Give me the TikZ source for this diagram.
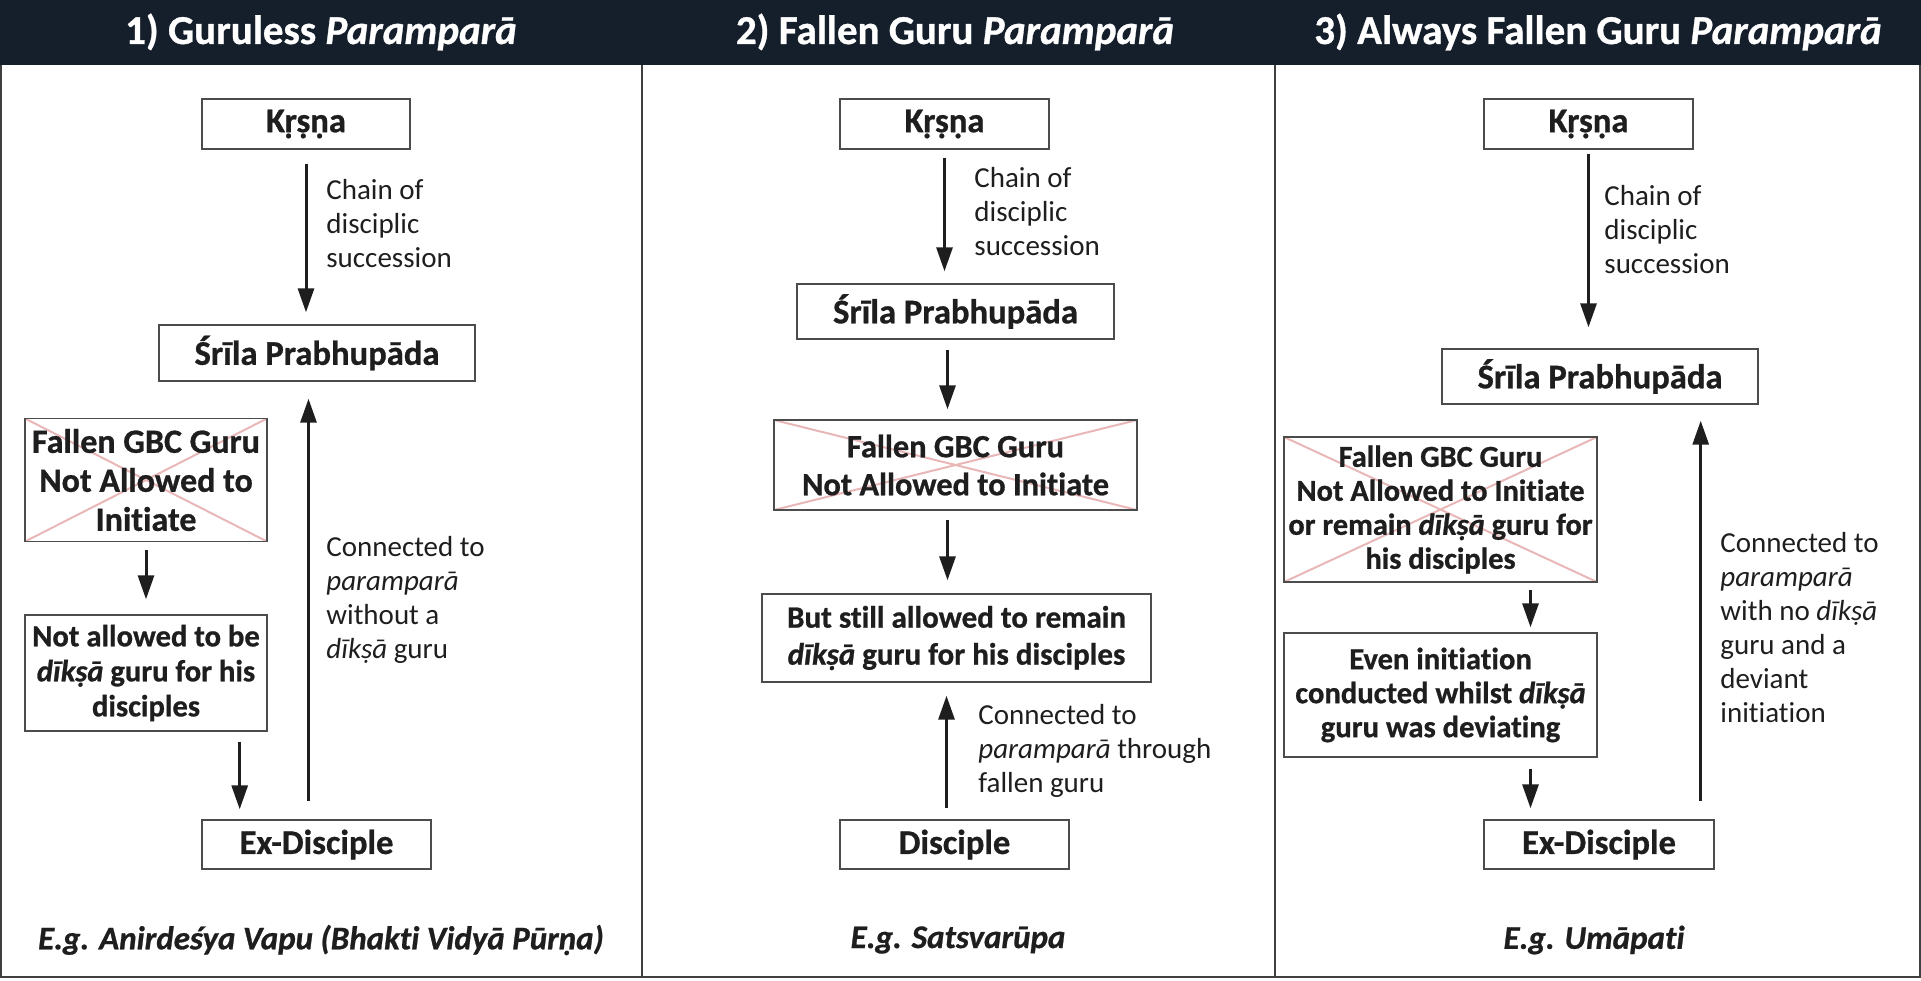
\documentclass[tikz,border=0pt]{standalone}
\usepackage{fontspec}
\setmainfont{Carlito}[Ligatures={NoCommon}, BoldFeatures={FakeBold=0.8}, BoldItalicFeatures={FakeBold=0.8}]
\usetikzlibrary{arrows.meta}

\definecolor{headblue}{HTML}{151F2C}
\definecolor{crosspink}{HTML}{E9B7B7}
\definecolor{inkblack}{HTML}{1E1E1E}

\tikzset{
  box/.style={draw=black!70, line width=0.7pt, align=center, inner sep=0pt,
    text=inkblack, font=\bfseries\fontsize{15.5}{18}\selectfont},
  bigbox/.style={box, font=\bfseries\fontsize{17.3}{20}\selectfont},
  crossed/.style={box, path picture={
    \draw[crosspink, line width=1pt]
      (path picture bounding box.north west) -- (path picture bounding box.south east)
      (path picture bounding box.south west) -- (path picture bounding box.north east);}},
  flow/.style={-{Triangle[width=8pt,length=12pt]}, line width=1.5pt, draw=inkblack,
    shorten >=5pt, shorten <=5pt},
  note/.style={anchor=west, align=left, inner sep=0pt, text=inkblack,
    font=\fontsize{14.5}{17}\selectfont},
  title/.style={text=white, font=\bfseries\fontsize{20.5}{22}\selectfont},
  foot/.style={text=inkblack, font=\bfseries\itshape\fontsize{16.5}{19}\selectfont}
}

\begin{document}
\begin{tikzpicture}[x=0.5pt, y=-0.5pt]
  \useasboundingbox (0,0) rectangle (1921,980);

  %%%%%%%%%%%Header bar and panel frames%%%%%%%%%%%
  \fill[headblue] (0,0) rectangle (1921,65);
  \draw[black!75, line width=1pt] (1,65) -- (1,977) -- (1920,977) -- (1920,65);
  \draw[black!75, line width=1pt] (642,65) -- (642,977);
  \draw[black!75, line width=1pt] (1275,65) -- (1275,977);

  \node[title] (titleA) at (321,32) {1) Guruless \textit{Paramparā}};
  \node[title] (titleB) at (955,32) {2) Fallen Guru \textit{Paramparā}};
  \node[title] (titleC) at (1598,32) {3) Always Fallen Guru \textit{Paramparā}};

  %%%%%%%%%%%Panel 1: guruless%%%%%%%%%%%
  \node[bigbox, minimum width=104pt, minimum height=25pt] (krsnaA) at (306,124) {Kṛṣṇa};
  \node[bigbox, minimum width=158pt, minimum height=28pt] (srilaA) at (317,353) {Śrīla Prabhupāda};
  \node[crossed, minimum width=121pt, minimum height=61.5pt,
        font=\bfseries\fontsize{17}{19.5}\selectfont] (fallenA) at (146,480)
        {Fallen GBC Guru\\Not Allowed to\\Initiate};
  \node[box, minimum width=121pt, minimum height=58pt, font=\bfseries\fontsize{15.3}{17.5}\selectfont]
        (notA) at (146,673) {Not allowed to be\\\textit{dīkṣā} guru for his\\disciples};
  \node[bigbox, minimum width=114.5pt, minimum height=24.5pt] (exA) at (316.5,844.5) {Ex-Disciple};

  \node[note] (chainA) at (326,224) {Chain of\\disciplic\\succession};
  \node[note] (linkA) at (326,600) {Connected to\\\textit{paramparā}\\without a\\\textit{dīkṣā} guru};

  \coordinate (nA) at ([xshift=-14pt]notA.south east);
  \coordinate (xA) at ([xshift=-4pt]exA.north);
  \draw[flow, shorten <=7pt, shorten >=6pt] (krsnaA.south) -- (krsnaA.south |- srilaA.north);
  \draw[flow, shorten <=4pt, shorten >=7.5pt] (fallenA.south) -- (notA.north);
  \draw[flow] (nA) -- (nA |- exA.north);
  \draw[flow, shorten <=9pt, shorten >=8.5pt] (xA) -- (xA |- srilaA.south);

  \node[foot] (footA) at (321,940) {E.g. Anirdeśya Vapu (Bhakti Vidyā Pūrṇa)};

  %%%%%%%%%%%Panel 2: fallen guru%%%%%%%%%%%
  \node[bigbox, minimum width=104.5pt, minimum height=25pt] (krsnaB) at (944.5,124) {Kṛṣṇa};
  \node[bigbox, minimum width=158.5pt, minimum height=27.5pt] (srilaB) at (955.5,311.5) {Śrīla Prabhupāda};
  \node[crossed, minimum width=181.5pt, minimum height=45pt,
        font=\bfseries\fontsize{16.2}{19}\selectfont] (fallenB) at (955.5,465)
        {Fallen GBC Guru\\Not Allowed to Initiate};
  \node[box, minimum width=194.5pt, minimum height=44pt, font=\bfseries\fontsize{15.5}{18.5}\selectfont]
        (stillB) at (956.5,638) {But still allowed to remain\\\textit{dīkṣā} guru for his disciples};
  \node[bigbox, minimum width=114.5pt, minimum height=24.5pt] (discB) at (954.5,844.5) {Disciple};

  \node[note] (chainB) at (974,212) {Chain of\\disciplic\\succession};
  \node[note] (linkB) at (978,751) {Connected to\\\textit{paramparā} through\\fallen guru};

  \draw[flow, shorten <=4pt, shorten >=6pt] (krsnaB.south) -- (krsnaB.south |- srilaB.north);
  \draw[flow] ([xshift=-4pt]srilaB.south) -- ([xshift=-4pt]fallenB.north);
  \draw[flow, shorten <=4.5pt, shorten >=6.5pt] ([xshift=-4pt]fallenB.south) -- ([xshift=-4.5pt]stillB.north);
  \draw[flow, shorten <=5.5pt, shorten >=6.5pt] ([xshift=-4pt]discB.north) -- ([xshift=-5pt]stillB.south);

  \node[foot] (footB) at (958,940) {E.g. Satsvarūpa};

  %%%%%%%%%%%Panel 3: always fallen guru%%%%%%%%%%%
  \node[bigbox, minimum width=104.5pt, minimum height=25pt] (krsnaC) at (1588.5,124) {Kṛṣṇa};
  \node[bigbox, minimum width=158pt, minimum height=27.5pt] (srilaC) at (1600,376.5) {Śrīla Prabhupāda};
  \node[crossed, minimum width=156.5pt, minimum height=72.5pt,
        font=\bfseries\fontsize{15.2}{17}\selectfont] (fallenC) at (1440.5,509.5)
        {Fallen GBC Guru\\Not Allowed to Initiate\\or remain \textit{dīkṣā} guru for\\his disciples};
  \node[box, minimum width=156.5pt, minimum height=62pt, font=\bfseries\fontsize{15.3}{17}\selectfont]
        (evenC) at (1440.5,695) {Even initiation\\conducted whilst \textit{dīkṣā}\\guru was deviating};
  \node[bigbox, minimum width=115pt, minimum height=24.5pt] (exC) at (1599,844.5) {Ex-Disciple};

  \node[note] (chainC) at (1604,230) {Chain of\\disciplic\\succession};
  \node[note] (linkC) at (1720,628) {Connected to\\\textit{paramparā}\\with no \textit{dīkṣā}\\guru and a\\deviant\\initiation};

  \coordinate (fC) at ([xshift=45pt]fallenC.south);
  \coordinate (eC) at ([xshift=45pt]evenC.south);
  \coordinate (xC) at ([xshift=-7pt]exC.north east);
  \draw[flow, shorten <=2pt, shorten >=10.5pt] (krsnaC.south) -- (krsnaC.south |- srilaC.north);
  \draw[flow, shorten <=3.5pt, shorten >=2.5pt] (fC) -- (fC |- evenC.north);
  \draw[flow, shorten <=5.5pt, shorten >=5.5pt] (eC) -- (eC |- exC.north);
  \draw[flow, shorten <=9pt, shorten >=8pt] (xC) -- (xC |- srilaC.south);

  \node[foot] (footC) at (1594,940) {E.g. Umāpati};
\end{tikzpicture}
\end{document}
